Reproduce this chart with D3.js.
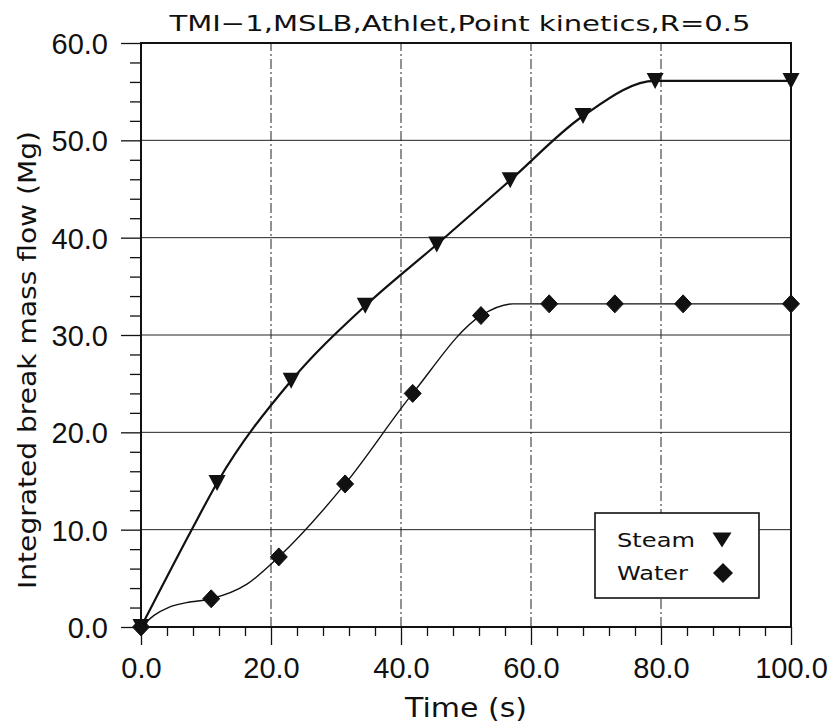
<!DOCTYPE html>
<html>
<head>
<meta charset="utf-8">
<script src="https://cdn.jsdelivr.net/npm/d3@7"></script>
<style>
  body { margin: 0; background: #fff; }
  svg { display: block; }
  .lbl { font-family: "DejaVu Sans", sans-serif; fill: #111; }
  .tick text { font-family: "Liberation Sans", Arial, sans-serif; font-size: 29px; fill: #111; }
</style>
</head>
<body>
<svg id="chart" width="835" height="728"></svg>
<script>
// curve points (time s, integrated mass Mg)
const steamCurveT = [0, 7.8, 11.7, 23.1, 34.5, 45.5, 56.8, 68.0, 79.1, 100];
const steamCurveM = [0, 10.0, 14.8, 25.3, 33.0, 39.3, 45.9, 52.5, 56.1, 56.1];
const waterCurveT = [0, 2.0, 4.2, 7.0, 10.8, 16.3, 21.2, 31.4, 41.8, 52.3, 57.2, 62.8, 100];
const waterCurveM = [0, 1.2, 2.0, 2.5, 2.9, 4.4, 7.2, 14.7, 24.0, 32.0, 33.2, 33.2, 33.2];

// marker positions
const steamMarkT = [0, 11.7, 23.1, 34.5, 45.5, 56.8, 68.0, 79.1, 100];
const steamMarkM = [0, 14.8, 25.3, 33.0, 39.3, 45.9, 52.5, 56.1, 56.1];
const waterMarkT = [0, 10.8, 21.2, 31.4, 41.8, 52.3, 62.8, 72.9, 83.4, 100];
const waterMarkM = [0, 2.9, 7.2, 14.7, 24.0, 32.0, 33.2, 33.2, 33.2, 33.2];

const xTicks = [0, 20, 40, 60, 80, 100];
const yTicks = [0, 10, 20, 30, 40, 50, 60];
const xMinor = d3.range(0, 101, 4).filter(v => v % 20 !== 0);
const yMinor = d3.range(0, 61, 2).filter(v => v % 10 !== 0);

const titleText = 'TMI\u22121,MSLB,Athlet,Point kinetics,R=0.5';
const xTitle = 'Time (s)';
const yTitle = 'Integrated break mass flow (Mg)';
const legendNames = ['Steam', 'Water'];

const svg = d3.select('#chart');
const margin = { top: 43, right: 44, bottom: 101, left: 141 };
const width = 835, height = 728;

const x = d3.scaleLinear().domain([0, 100]).range([margin.left, width - margin.right]);
const y = d3.scaleLinear().domain([0, 60]).range([height - margin.bottom, margin.top]);

// grid
const grid = svg.append('g');
grid.selectAll('line.h').data(yTicks.slice(1, -1)).join('line')
    .attr('x1', x(0)).attr('x2', x(100))
    .attr('y1', d => y(d)).attr('y2', d => y(d))
    .attr('stroke', '#222').attr('stroke-width', 1);
grid.selectAll('line.v').data(xTicks.slice(1, -1)).join('line')
    .attr('x1', d => x(d)).attr('x2', d => x(d))
    .attr('y1', y(0)).attr('y2', y(60))
    .attr('stroke', '#222').attr('stroke-width', 1)
    .attr('stroke-dasharray', '10,3,2,3');

// axes
const fmt = d3.format('.1f');
const xAxis = svg.append('g').attr('transform', `translate(0,${ y(0) })`)
    .call(d3.axisBottom(x).tickValues(xTicks).tickSize(18).tickFormat(fmt));
xAxis.selectAll('text').attr('y', 51).attr('dy', 0);
svg.append('g').attr('transform', `translate(0,${ y(0) })`)
    .call(d3.axisBottom(x).tickValues(xMinor).tickSize(9).tickFormat(''));

const yAxis = svg.append('g').attr('transform', `translate(${ x(0) },0)`)
    .call(d3.axisLeft(y).tickValues(yTicks).tickSize(20).tickFormat(fmt));
yAxis.selectAll('text').attr('x', -33).attr('dy', '0.36em');
svg.append('g').attr('transform', `translate(${ x(0) },0)`)
    .call(d3.axisLeft(y).tickValues(yMinor).tickSize(11).tickFormat(''));

svg.selectAll('.domain').remove();
svg.selectAll('.tick line').attr('stroke', '#111').attr('stroke-width', 1.3);

// frame
svg.append('rect')
    .attr('x', x(0)).attr('y', y(60))
    .attr('width', x(100) - x(0)).attr('height', y(0) - y(60))
    .attr('fill', 'none').attr('stroke', '#111').attr('stroke-width', 2);

// lines
const line = d3.line().curve(d3.curveMonotoneX).x(d => x(d[0])).y(d => y(d[1]));
const steamCurve = d3.zip(steamCurveT, steamCurveM);
const waterCurve = d3.zip(waterCurveT, waterCurveM);

svg.append('path').datum(waterCurve)
    .attr('fill', 'none').attr('stroke', '#111').attr('stroke-width', 1.4).attr('d', line);
svg.append('path').datum(steamCurve)
    .attr('fill', 'none').attr('stroke', '#111').attr('stroke-width', 2.2).attr('d', line);

// markers
const triPath = (w, h) => `M${ -w / 2 },${ -h / 2 }L${ w / 2 },${ -h / 2 }L0,${ h / 2 }Z`;
const diaPath = (w, h) => `M0,${ -h / 2 }L${ w / 2 },0L0,${ h / 2 }L${ -w / 2 },0Z`;

svg.append('g').selectAll('path').data(d3.zip(waterMarkT, waterMarkM)).join('path')
    .attr('transform', d => `translate(${ x(d[0]) },${ y(d[1]) })`)
    .attr('d', diaPath(17, 18)).attr('fill', '#111').attr('stroke', '#111').attr('stroke-width', 1);
svg.append('g').selectAll('path').data(d3.zip(steamMarkT, steamMarkM)).join('path')
    .attr('transform', d => `translate(${ x(d[0]) },${ y(d[1]) })`)
    .attr('d', triPath(17, 16)).attr('fill', '#111');

// legend
const legend = svg.append('g');
legend.append('rect')
    .attr('x', 595).attr('y', 513).attr('width', 164).attr('height', 85)
    .attr('fill', '#fff').attr('stroke', '#111').attr('stroke-width', 1.6);
legend.selectAll('text').data(legendNames).join('text')
    .attr('class', 'lbl')
    .attr('x', 617).attr('y', (d, i) => 547 + i * 33)
    .attr('font-size', 20)
    .attr('textLength', (d, i) => i === 0 ? 78 : 71).attr('lengthAdjust', 'spacingAndGlyphs')
    .text(d => d);
legend.append('path').attr('transform', 'translate(722,540)').attr('d', triPath(19, 15)).attr('fill', '#111');
legend.append('path').attr('transform', 'translate(723,573)').attr('d', diaPath(20, 20)).attr('fill', '#111');

// titles
svg.append('text').attr('class', 'lbl')
    .attr('x', 460).attr('y', 31).attr('text-anchor', 'middle')
    .attr('font-size', 21).attr('textLength', 581).attr('lengthAdjust', 'spacingAndGlyphs')
    .text(titleText);
svg.append('text').attr('class', 'lbl')
    .attr('x', 466).attr('y', 717).attr('text-anchor', 'middle')
    .attr('font-size', 26).attr('textLength', 122).attr('lengthAdjust', 'spacingAndGlyphs')
    .text(xTitle);
svg.append('text').attr('class', 'lbl')
    .attr('transform', 'translate(36,360) rotate(-90)').attr('text-anchor', 'middle')
    .attr('font-size', 25).attr('textLength', 458).attr('lengthAdjust', 'spacingAndGlyphs')
    .text(yTitle);
</script>
</body>
</html>
